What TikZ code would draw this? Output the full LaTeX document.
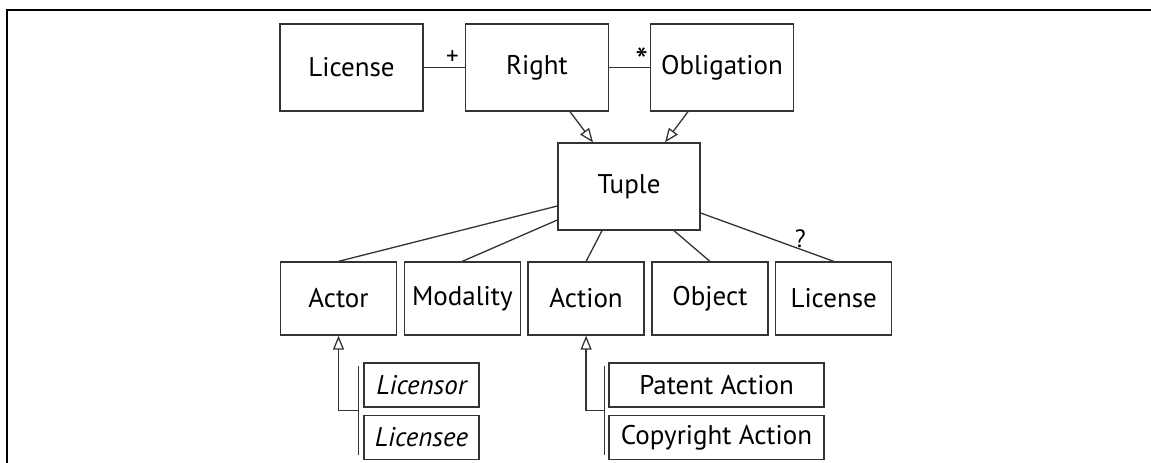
\documentclass[tikz,border=0pt]{standalone}
\usepackage{fontspec}
\setmainfont{PT Sans}
\usetikzlibrary{arrows.meta,positioning}
\tikzset{
  class/.style={draw=black!80, line width=1.3pt, inner sep=0pt, minimum width=143pt, minimum height=87pt, font=\fontsize{27}{31}\selectfont}, % boxes of the top part
  part/.style={class, minimum width=116pt, minimum height=73pt}, % the parts of a tuple
  sub/.style={class, minimum height=44pt}, % the sub classes
  link/.style={draw=black!80, line width=1.3pt}, % plain association
  gen/.style={link, -{Triangle[open, length=14pt, width=11pt]}}, % generalisation
  mult/.style={font=\fontsize{25}{27}\selectfont, inner sep=1pt},
}

\begin{document}
\begin{tikzpicture}[x=1pt, y=-1pt]
    \useasboundingbox (0,0) rectangle (1151,463);
    \draw[line width=2.5pt] (7,463) -- (7,10) -- (1151,10);

    \node[class] (LICENSE) at (351.5,67.5) {License};
    \node[class] (RIGHT) at (537,67.5) {Right};
    \node[class] (OBLIGATION) at (722,67.5) {Obligation};
    \node[class, minimum width=142pt] (TUPLE) at (629,186.5) {Tuple};

    \node[part] (ACTOR) at (338.5,298.5) {Actor};
    \node[part, right=6.5pt of ACTOR] (MODALITY) {Modality};
    \node[part, right=6.5pt of MODALITY] (ACTION) {Action};
    \node[part, right=6.5pt of ACTION] (OBJECT) {Object};
    \node[part, right=6.5pt of OBJECT] (TUPLE_LICENSE) {License};

    \node[sub, minimum width=115pt] (LICENSOR) at (421.5,385) {\itshape Licensor};
    \node[sub, minimum width=115pt, below=7pt of LICENSOR] (LICENSEE) {\itshape Licensee};
    \node[sub, minimum width=215pt] (PATENT_ACTION) at (716.5,385) {Patent Action};
    \node[sub, minimum width=215pt, below=7pt of PATENT_ACTION] (COPYRIGHT_ACTION) {Copyright Action};

    \draw[link] (LICENSE) -- node[mult, pos=0.7, above=1pt]{+} (RIGHT);
    \draw[link] (RIGHT) -- node[mult, font=\fontsize{36}{36}\selectfont, pos=0.8, above=-8pt]{*} (OBLIGATION);
    \draw[gen] ([xshift=33pt]RIGHT.south) -- ([xshift=-36pt]TUPLE.north);
    \draw[gen] ([xshift=-34pt]OBLIGATION.south) -- ([xshift=36pt]TUPLE.north);

    \draw[link] ([yshift=-19.5pt]TUPLE.west) -- (ACTOR.north);
    \draw[link] ([yshift=-33.5pt]TUPLE.west) -- (MODALITY.north);
    \draw[link] ([xshift=-27pt]TUPLE.south) -- (ACTION.north);
    \draw[link] ([xshift=45pt]TUPLE.south) -- (OBJECT.north);
    \draw[link] ([yshift=-26.5pt]TUPLE.east) -- node[mult, pos=0.75, above=0pt]{?} (TUPLE_LICENSE.north);

    % bars in front of the sub classes
    \draw[link] ([xshift=-5pt, yshift=-4pt]LICENSOR.north west) -- ([xshift=-5pt, yshift=5pt]LICENSEE.south west);
    \draw[link] ([xshift=-4pt, yshift=-4pt]PATENT_ACTION.north west) -- ([xshift=-4pt, yshift=5pt]COPYRIGHT_ACTION.south west);
    \coordinate (ACTOR_JOIN) at ([xshift=-5pt, yshift=-3pt]LICENSOR.south west);
    \coordinate (ACTION_JOIN) at ([xshift=-4pt, yshift=-3pt]PATENT_ACTION.south west);
    \draw[gen] (ACTOR_JOIN) -| (ACTOR.south);
    \draw[gen] (ACTION_JOIN) -| (ACTION.south);
\end{tikzpicture}
\end{document}
